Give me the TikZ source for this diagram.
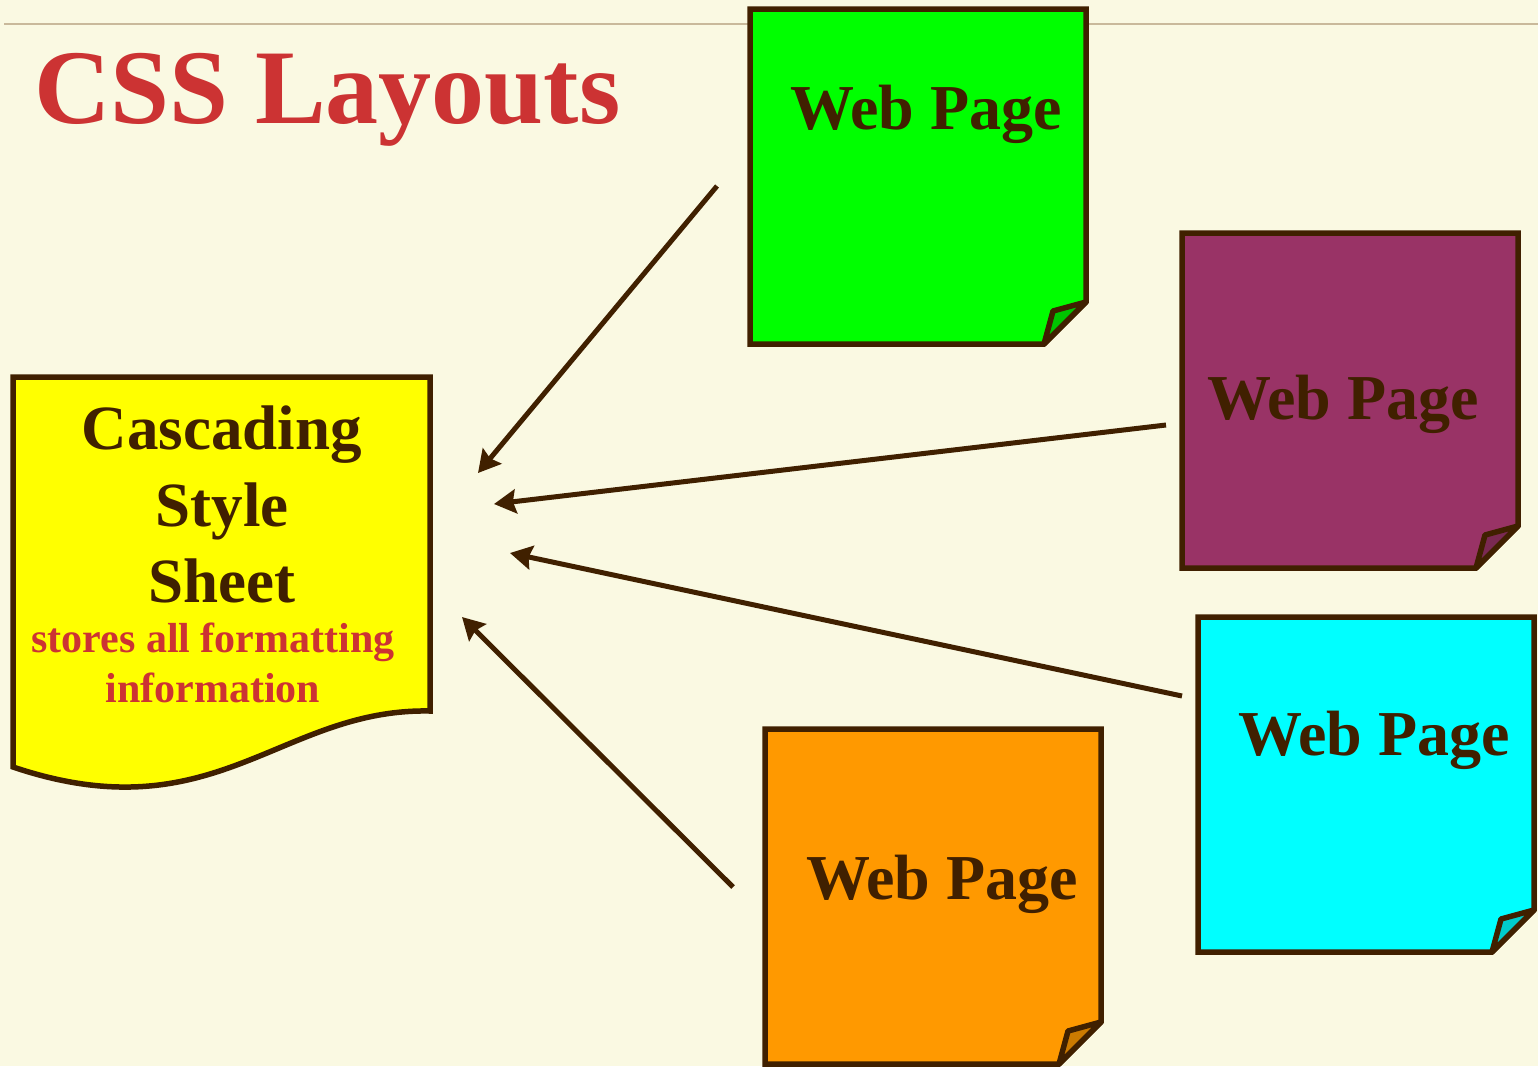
\documentclass[tikz,border=0pt]{standalone}
\usepackage{fontspec}
\setmainfont{Liberation Serif}
\usetikzlibrary{arrows.meta}
\definecolor{bgcream}{HTML}{FAF9E2}
\definecolor{brownline}{HTML}{402000}
\definecolor{titlered}{HTML}{CC3333}
\definecolor{rulecol}{HTML}{C9B99B}
\definecolor{pgreen}{HTML}{00FF00}
\definecolor{pgreenf}{HTML}{00C400}
\definecolor{ppurple}{HTML}{993366}
\definecolor{ppurplef}{HTML}{7A2952}
\definecolor{pcyan}{HTML}{00FFFF}
\definecolor{pcyanf}{HTML}{00CCCC}
\definecolor{porange}{HTML}{FF9900}
\definecolor{porangef}{HTML}{CC7A00}
\definecolor{docyellow}{HTML}{FFFF00}
\tikzset{
  pageline/.style={draw=brownline, line width=5.5pt, line join=miter, miter limit=2},
  webtext/.style={anchor=base, inner sep=0pt, text=brownline, font=\fontsize{64}{70}\selectfont\bfseries},
  csstext/.style={anchor=base, inner sep=0pt, text=brownline, font=\fontsize{63}{70}\selectfont\bfseries},
  redtext/.style={anchor=base, inner sep=0pt, text=titlered, font=\fontsize{42}{48}\selectfont\bfseries},
  linkarrow/.style={draw=brownline, line width=5pt, -{Stealth[length=22pt, width=24pt, inset=3pt]}},
}
\newcommand\webpage[7]{%
  \begin{scope}[shift={(#2,#3)}]
    \filldraw[pageline, fill=#4] (0,0) -- (336,0) -- (336,293) -- (294,335) -- (0,335) -- cycle;
    \filldraw[pageline, fill=#5, line join=bevel] (294,335) -- (303,302) -- (336,293) -- cycle;
  \end{scope}
  \node[webtext] (#1) at (#6,#7) {Web Page};
}
\begin{document}
\begin{tikzpicture}[x=1pt, y=-1pt]
  \fill[bgcream] (0,0) rectangle (1538,1066);
  \useasboundingbox (0,0) rectangle (1538,1066);
  \coordinate (ruleL) at (4,24);
  \coordinate (ruleR) at (1538,24);
  \draw[rulecol, line width=2pt] (ruleL) -- (ruleR);

  \node[anchor=base west, inner sep=0pt, text=titlered, font=\fontsize{106}{110}\selectfont\bfseries] (title) at (34,123) {CSS Layouts};

  \webpage{wgreen}{750}{9}{pgreen}{pgreenf}{926}{129}
  \webpage{wpurple}{1182}{233}{ppurple}{ppurplef}{1343}{419}
  \webpage{wcyan}{1198}{617}{pcyan}{pcyanf}{1374}{755}
  \webpage{worange}{765}{729}{porange}{porangef}{942}{899}

  % style sheet document
  \filldraw[pageline, fill=docyellow] (13,377) -- (430,377) -- (430,711)
     .. controls (280,708) and (215,835) .. (13,767) -- cycle;
  \node[csstext] (css1) at (222,449) {Cascading};
  \node[csstext] (css2) at (222,526) {Style};
  \node[csstext] (css3) at (222,602) {Sheet};
  \node[redtext] (css4) at (213,652) {stores all formatting};
  \node[redtext] (css5) at (213,702) {information};

  % arrows
  \coordinate (a1s) at (717,186);  \coordinate (a1e) at (478,473);
  \coordinate (a2s) at (1166,425); \coordinate (a2e) at (494,504);
  \coordinate (a3s) at (1182,696); \coordinate (a3e) at (510,553);
  \coordinate (a4s) at (733,887);  \coordinate (a4e) at (462,617);
  \draw[linkarrow] (a1s) -- (a1e);
  \draw[linkarrow] (a2s) -- (a2e);
  \draw[linkarrow] (a3s) -- (a3e);
  \draw[linkarrow] (a4s) -- (a4e);
\end{tikzpicture}
\end{document}
